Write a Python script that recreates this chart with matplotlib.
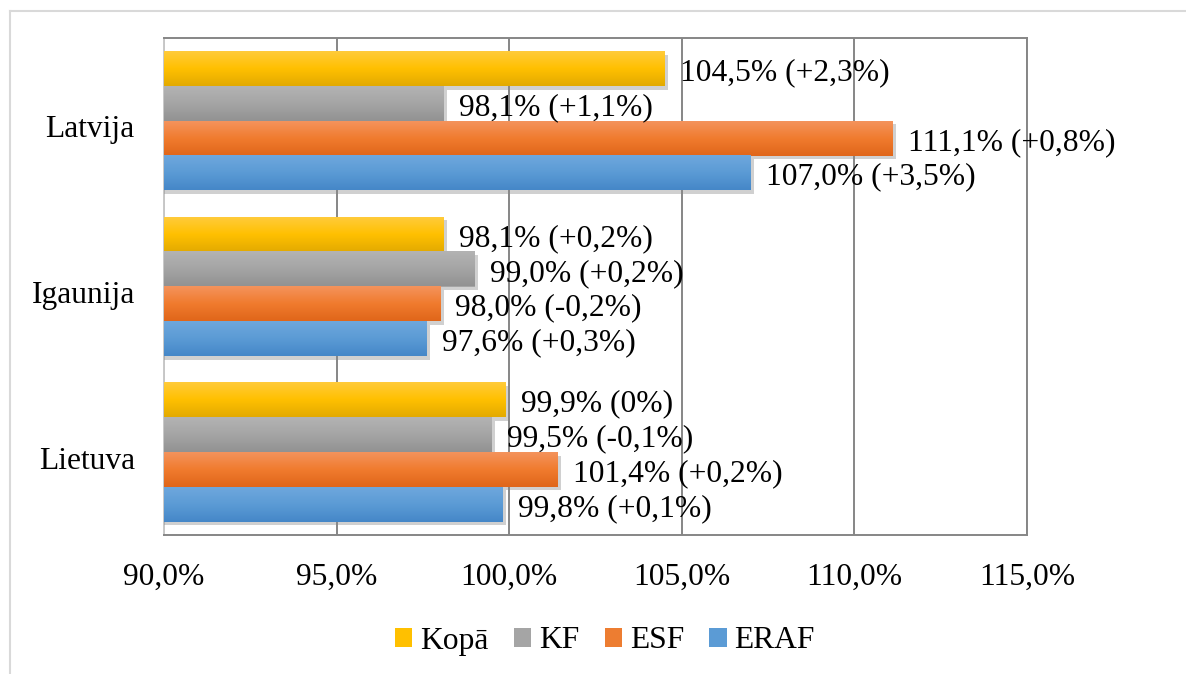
import numpy as np
import matplotlib
matplotlib.use("Agg")
import matplotlib.pyplot as plt
from matplotlib.patches import Rectangle
from matplotlib.lines import Line2D
from matplotlib.colors import LinearSegmentedColormap
import matplotlib.patheffects as pe
import matplotlib.transforms as mtransforms

plt.rcParams['font.family'] = ['Liberation Serif', 'DejaVu Serif']

# ---- data ----
categories = ["Lietuva", "Igaunija", "Latvija"]          # bottom -> top
series = ["Kopā", "KF", "ESF", "ERAF"]                   # top -> bottom inside group
kopa = [99.9, 98.1, 104.5]
kf = [99.5, 99.0, 98.1]
esf = [101.4, 98.0, 111.1]
eraf = [99.8, 97.6, 107.0]
kopa_lbl = ["99,9% (0%)", "98,1% (+0,2%)", "104,5% (+2,3%)"]
kf_lbl = ["99,5% (-0,1%)", "99,0% (+0,2%)", "98,1% (+1,1%)"]
esf_lbl = ["101,4% (+0,2%)", "98,0% (-0,2%)", "111,1% (+0,8%)"]
eraf_lbl = ["99,8% (+0,1%)", "97,6% (+0,3%)", "107,0% (+3,5%)"]
xticks = [90, 95, 100, 105, 110, 115]
xtick_labels = ["90,0%", "95,0%", "100,0%", "105,0%", "110,0%", "115,0%"]

values = [kopa, kf, esf, eraf]
labels = [kopa_lbl, kf_lbl, esf_lbl, eraf_lbl]
# (top colour, mid colour, bottom colour)
grads = [("#FFCB3A", "#FFC000", "#E3AA00"),
         ("#B3B3B3", "#A5A5A5", "#929292"),
         ("#F4935C", "#F07B2E", "#E0661A"),
         ("#6EA7DD", "#5B9BD5", "#4587C8")]
solid = ["#FFC000", "#A5A5A5", "#ED7D31", "#5B9BD5"]

FS = 22.7
W, H = 1186, 674
fig = plt.figure(figsize=(W / 100, H / 100), dpi=100)
ax = fig.add_axes([164 / W, 1 - 535 / H, (1027 - 164) / W, (535 - 38) / H])

h = 0.21
offsets = [1.5 * h, 0.5 * h, -0.5 * h, -1.5 * h]
y = np.arange(len(categories))

ax.set_xlim(90, 115)
ax.set_ylim(-0.5, len(categories) - 0.5)

shadow = [pe.SimplePatchShadow(offset=(2.5, -2.5), shadow_rgbFace="#8a8a8a", alpha=0.4), pe.Normal()]
for i, (vals, lbls) in enumerate(zip(values, labels)):
    bars = ax.barh(y + offsets[i], vals, height=h, color=solid[i], zorder=3,
                   path_effects=shadow, left=0)
    cmap = LinearSegmentedColormap.from_list("g%d" % i, list(grads[i]))
    for b, v, lab in zip(bars, vals, lbls):
        y0 = b.get_y()
        y1 = y0 + b.get_height()
        grad = np.linspace(0, 1, 64).reshape(-1, 1)
        ax.imshow(grad, cmap=cmap, aspect="auto", origin="upper",
                  extent=(90, v, y0, y1), zorder=3.5, interpolation="bilinear")
        ax.annotate(lab, xy=(v, y0 + b.get_height() / 2), xytext=(11, -3),
                    textcoords="offset points", va="center", ha="left",
                    fontsize=FS, color="black", zorder=6, annotation_clip=False)

ax.set_xlim(90, 115)
ax.set_ylim(-0.5, len(categories) - 0.5)
ax.set_xticks(xticks)
ax.set_xticklabels(xtick_labels)
ax.set_yticks(y)
ax.set_yticklabels(categories)
ax.tick_params(axis="both", length=0, labelsize=FS)
ax.tick_params(axis="x", pad=20)
ax.tick_params(axis="y", pad=21)
shift = mtransforms.ScaledTranslation(0, -4 / 72, fig.dpi_scale_trans)
for lbl in ax.get_yticklabels():
    lbl.set_transform(lbl.get_transform() + shift)
ax.xaxis.grid(True, color="#868686", linewidth=1.4, zorder=1)
ax.set_axisbelow(True)
for s in ["top", "right", "bottom"]:
    ax.spines[s].set_color("#868686")
    ax.spines[s].set_linewidth(1.4)
ax.spines["left"].set_color("#c8c8c8")
ax.spines["left"].set_linewidth(1.4)

handles = [Rectangle((0, 0), 1, 1, facecolor=c, edgecolor="none") for c in solid]
fig.legend(handles, series, loc="center", bbox_to_anchor=(605 / W, 1 - 641 / H),
           ncol=4, frameon=False, fontsize=FS, handlelength=0.55, handleheight=0.55,
           handletextpad=0.25, columnspacing=0.8)

# outer chart border
fig.add_artist(Line2D([10 / W, 1], [1 - 11 / H, 1 - 11 / H], color="#d9d9d9", lw=1.5,
                      transform=fig.transFigure))
fig.add_artist(Line2D([10 / W, 10 / W], [0, 1 - 11 / H], color="#d9d9d9", lw=1.5,
                      transform=fig.transFigure))

fig.savefig("out.png", dpi=100, facecolor="white")
